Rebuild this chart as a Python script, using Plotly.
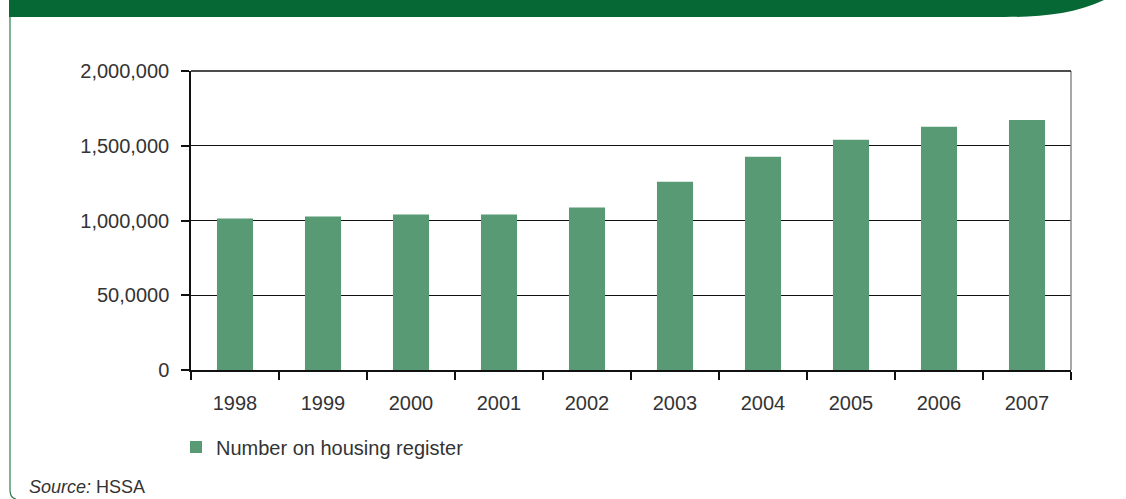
import plotly.graph_objects as go

# Housing register totals by year
years = ["1998", "1999", "2000", "2001", "2002", "2003", "2004", "2005", "2006", "2007"]
register = [1013000, 1027000, 1040000, 1040000, 1087000, 1260000, 1427000, 1540000, 1627000, 1673000]

y_tick_vals = [0, 500000, 1000000, 1500000, 2000000]
y_tick_text = ["0", "50,0000", "1,000,000", "1,500,000", "2,000,000"]

W, H = 1126, 499
L, R, T, B = 191, 1071, 71, 370  # plot area edges in pixels

FONT = "Liberation Sans, Arial, sans-serif"
TEXT = "#333333"
BAR = "#579a73"
BAND = "#066835"


def px(x):
    return (x - L) / (R - L)


def py(y):
    return (B - y) / (B - T)


band_path = (
    f"M {px(9)},{py(0)} L {px(1104)},{py(0)} "
    f"C {px(1075)},{py(14)} {px(1040)},{py(17)} {px(1005)},{py(17)} "
    f"L {px(9)},{py(17)} Z"
)
border_path = (
    f"M {px(10)},{py(17)} L {px(10)},{py(490)} "
    f"Q {px(10)},{py(498)} {px(16)},{py(499)}"
)

fig = go.Figure()
fig.add_trace(go.Bar(
    x=years, y=register, name="Number on housing register",
    marker=dict(color=BAR, line=dict(width=0)),
    showlegend=True,
))

fig.update_layout(
    width=W, height=H,
    margin=dict(l=L, r=W - R, t=T, b=H - B, pad=0),
    paper_bgcolor="white", plot_bgcolor="white",
    font=dict(family=FONT, size=20, color=TEXT),
    bargap=0.59,
    showlegend=True,
    legend=dict(
        orientation="h", x=px(176), y=py(447), xanchor="left", yanchor="middle",
        font=dict(family=FONT, size=20, color=TEXT),
        itemwidth=30, bgcolor="rgba(0,0,0,0)",
    ),
    xaxis=dict(
        type="category", showgrid=False, zeroline=False,
        showline=True, linecolor="#111", linewidth=1.5,
        ticks="outside", tickson="boundaries", ticklen=8, tickwidth=1.5, tickcolor="#111",
        tickfont=dict(family=FONT, size=20, color=TEXT),
        ticklabelstandoff=14,
    ),
    yaxis=dict(
        range=[0, 2000000], tickvals=y_tick_vals, ticktext=y_tick_text,
        showgrid=True, gridcolor="#111", gridwidth=1.2,
        zeroline=False, showline=True, linecolor="#111", linewidth=1.5,
        ticks="outside", ticklen=8, tickwidth=1.5, tickcolor="#111",
        tickfont=dict(family=FONT, size=20, color=TEXT),
        ticklabelstandoff=8,
    ),
    shapes=[
        dict(type="path", xref="paper", yref="paper", path=band_path,
             fillcolor=BAND, line=dict(width=0), layer="above"),
        dict(type="path", xref="paper", yref="paper", path=border_path,
             line=dict(color="#2f7d4d", width=1.2), layer="above"),
        # grey right edge and dark top edge of the plot frame
        dict(type="line", xref="paper", yref="paper", x0=1, x1=1, y0=0, y1=1,
             line=dict(color="#8a8a8a", width=1.5)),
        dict(type="line", xref="paper", yref="paper", x0=0, x1=1, y0=1, y1=1,
             line=dict(color="#111", width=1.5)),
    ],
    annotations=[
        dict(text="<i>Source:</i> HSSA", xref="paper", yref="paper",
             x=px(27), y=py(487), xanchor="left", yanchor="middle",
             showarrow=False, font=dict(family=FONT, size=18, color=TEXT)),
    ],
)

fig.write_html("out.html")
